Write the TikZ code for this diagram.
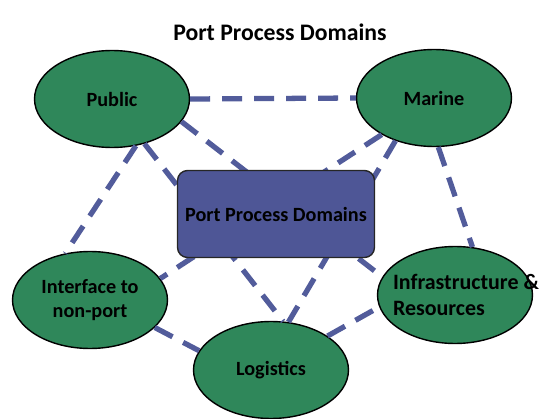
\documentclass[tikz,border=0pt]{standalone}
\usepackage{fontspec}
\setmainfont{Carlito}
\usetikzlibrary{shapes.geometric}
\definecolor{domaingreen}{RGB}{47,135,90}
\definecolor{domainblue}{RGB}{78,86,150}
\definecolor{linkblue}{RGB}{82,92,155}

\begin{document}
\begin{tikzpicture}[x=0.02cm, y=-0.02cm]
    \tikzset{
      domainnode/.style={ellipse, draw=black, thick, fill=domaingreen, minimum width=3.1cm, minimum height=1.94cm, inner sep=0pt, align=center, font=\bfseries\fontsize{11.5}{14}\selectfont},
      hubbox/.style={rectangle, rounded corners=0.2cm, draw=black!85, thick, fill=domainblue, minimum width=3.94cm, minimum height=1.74cm, font=\bfseries\fontsize{11.5}{14}\selectfont},
      link/.style={draw=linkblue, line width=3pt, dash pattern=on 0.4cm off 0.24cm}
    }
    \useasboundingbox (0,0) rectangle (542,419);
    \draw (280,32) node (title) [font=\bfseries\fontsize{13.5}{16}\selectfont] {Port Process Domains};
    \draw (112,99) node (public) [domainnode] {Public};
    \draw (434,98) node (marine) [domainnode] {Marine};
    \draw (90,300) node (iface) [domainnode] {Interface to\\non-port};
    \draw (455,295) node (infra) [domainnode, label={[anchor=west, xshift=0.2cm, align=left, font=\bfseries\fontsize{12.5}{15}\selectfont]west:Infrastructure \&\\Resources}] {};
    \draw (271,370) node (logistics) [domainnode] {Logistics};

    \foreach \from/\to in {public.east/marine.west, public.-18/infra.166, public.-54/logistics.76,
      public.-63/iface.118, marine.215/iface.17, marine.228/logistics.70, marine.-85/infra.70,
      iface.-23/logistics.165, logistics.31/infra.189}
      \draw[link] (\from) -- (\to);

    % drawn last so it hides the crossing links
    \draw (276,214) node (hub) [hubbox] {Port Process Domains};
  \end{tikzpicture}
\end{document}
